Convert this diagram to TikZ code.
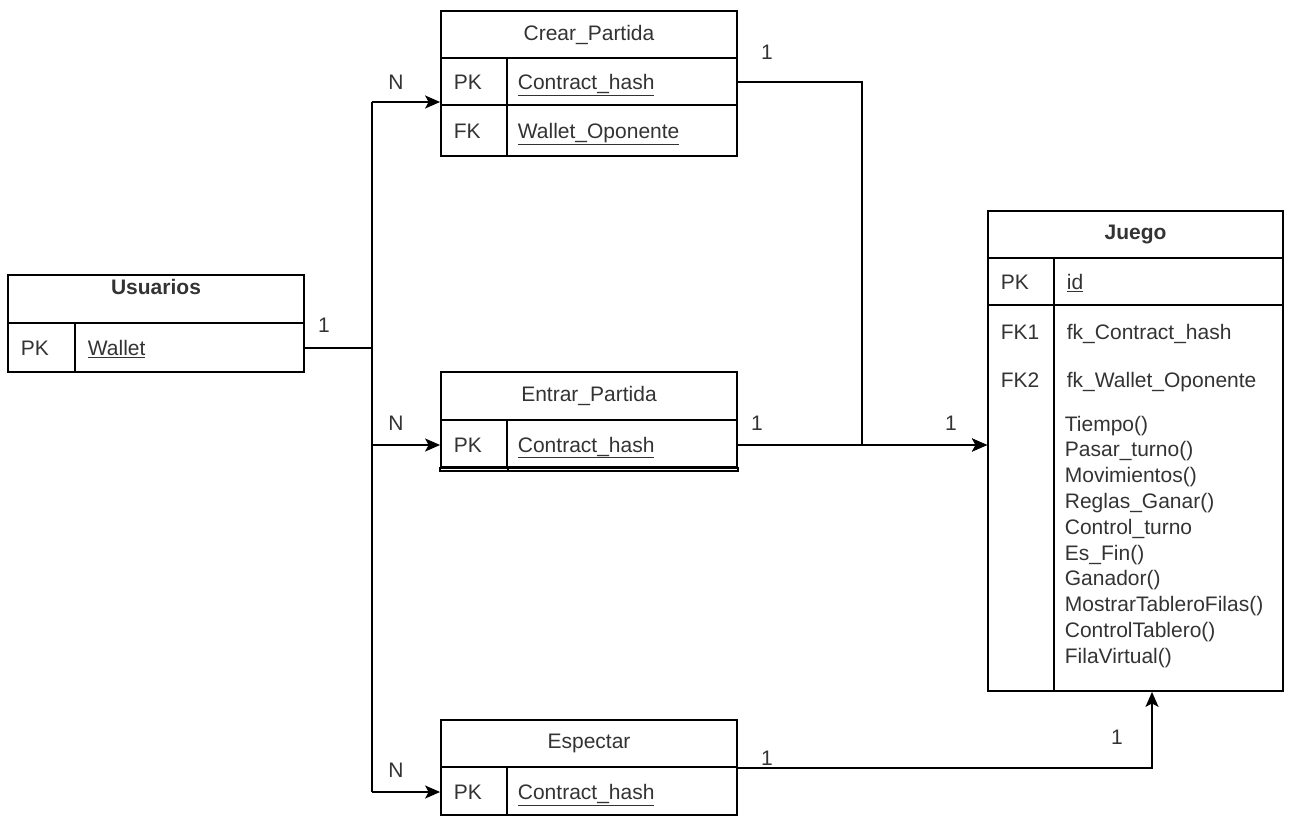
\documentclass[tikz,border=0pt]{standalone}
\usepackage{fontspec}
\setmainfont{Liberation Sans}
\usetikzlibrary{positioning,arrows.meta,calc}

\begin{document}
\begin{tikzpicture}[x=1pt,y=-1pt,line width=1.8pt,
    cell/.style={draw,rectangle,inner sep=0pt,minimum height=47pt},
    keycell/.style={cell,minimum width=66pt},
    fieldcell/.style={cell,minimum width=230pt},
    headcell/.style={cell,minimum width=296pt},
    txt/.style={inner sep=0pt,anchor=base west,text=black!80,
      font=\fontsize{21}{25.8}\selectfont},
    lab/.style={txt,anchor=center},
    arr/.style={-{Stealth[length=15pt,width=13pt,inset=3.5pt]}}]
  \useasboundingbox (0,0) rectangle (1291,816);
  % Usuarios table
  \node[cell,minimum width=296pt,minimum height=48pt] (usu) at (156,299) {};
  \node[lab,anchor=north,font=\fontsize{21}{25.8}\selectfont\bfseries] (usuT) at (156,278) {Usuarios};
  \node[keycell,minimum width=67pt,minimum height=49pt] (usuK) at (41.5,347.5) {};
  \node[cell,minimum width=229pt,minimum height=49pt] (usuF) at (189.5,347.5) {};
  \node[txt] (usuPK) at (20,355.5) {PK};
  \node[txt] (usuW) at (87,355.5) {\underline{Wallet}};
  % Crear_Partida table
  \node[headcell] (crear) at (589,34.5) {};
  \node[lab] (crearT) at (589,34.5) {Crear\_Partida};
  \node[keycell] (crearK) at (474,81.5) {};
  \node[fieldcell] (crearF) at (622,81.5) {};
  \node[keycell,minimum height=51pt] (crearK2) at (474,130.5) {};
  \node[fieldcell,minimum height=51pt] (crearF2) at (622,130.5) {};
  \node[txt] (crearPK) at (453,89.5) {PK};
  \node[txt] (crearCH) at (517,89.5) {\underline{Contract\_hash}};
  \node[txt] (crearFK) at (453,138.5) {FK};
  \node[txt] (crearWO) at (517,138.5) {\underline{Wallet\_Oponente}};
  % Entrar_Partida table
  \node[headcell,minimum height=48pt] (entrar) at (589,396) {};
  \node[lab] (entrarT) at (589,396) {Entrar\_Partida};
  \node[keycell] (entrarK) at (474,443.5) {};
  \node[fieldcell] (entrarF) at (622,443.5) {};
  \draw ([yshift=-3pt]entrarK.south west) rectangle (entrarF.south east);
  \draw (entrarK.south east) -- ++(0,3);
  \node[txt] (entrarPK) at (453,452) {PK};
  \node[txt] (entrarCH) at (517,452) {\underline{Contract\_hash}};
  % Espectar table
  \node[headcell] (espec) at (589,743.5) {};
  \node[lab] (especT) at (589,743.5) {Espectar};
  \node[keycell,minimum height=48pt] (especK) at (474,791) {};
  \node[fieldcell,minimum height=48pt] (especF) at (622,791) {};
  \node[txt] (especPK) at (453,799.5) {PK};
  \node[txt] (especCH) at (517,799.5) {\underline{Contract\_hash}};
  % Juego table
  \node[cell,minimum width=295pt] (juego) at (1135.5,234.5) {};
  \node[lab,font=\fontsize{21}{25.8}\selectfont\bfseries] (juegoT) at (1135.5,234.5) {Juego};
  \node[keycell] (juegoK) at (1021,281.5) {};
  \node[cell,minimum width=229pt] (juegoF) at (1168.5,281.5) {};
  \node[keycell,minimum height=386pt] (juegoK2) at (1021,498) {};
  \node[cell,minimum width=229pt,minimum height=386pt] (juegoF2) at (1168.5,498) {};
  \node[txt] (juegoPK) at (1000,289.5) {PK};
  \node[txt] (juegoId) at (1066,289.5) {\underline{id}};
  \node[txt] (juegoFK1) at (1000,339.5) {FK1};
  \node[txt] (juegoFC) at (1066,339.5) {fk\_Contract\_hash};
  \node[txt] (juegoFK2) at (1000,387.5) {FK2};
  \node[txt] (juegoFW) at (1066,387.5) {fk\_Wallet\_Oponente};
  \node[txt,anchor=north west,align=left] (juegoM) at (1064,415)
    {Tiempo()\\ Pasar\_turno()\\ Movimientos()\\ Reglas\_Ganar()\\
     Control\_turno\\ Es\_Fin()\\ Ganador()\\ MostrarTableroFilas()\\
     ControlTablero()\\ FilaVirtual()};
  % connectors from Usuarios
  \coordinate (trunk) at (372,348);
  \coordinate (trunkTop) at (372,102);
  \coordinate (trunkMid) at (372,445);
  \coordinate (trunkBot) at (372,792);
  \draw (usuF.east |- trunk) -- (trunk);
  \draw (trunkTop) -- (trunkBot);
  \draw[arr] (trunkTop) -- (trunkTop -| crearK.west);
  \draw[arr] (trunkMid) -- (trunkMid -| entrarK.west);
  \draw[arr] (trunkBot) -- (trunkBot -| especK.west);
  % connectors into Juego
  \coordinate (joinC) at (862,82);
  \coordinate (joinE) at (862,445);
  \coordinate (upE) at (1152,768);
  \draw[arr] (crearF.east |- joinC) -- (joinC) -- (joinE) -- (joinE -| juegoK2.west);
  \draw[arr] (entrarF.east |- joinE) -- (joinE -| juegoK2.west);
  \draw[arr] (especF.south east |- upE) -- (upE) -- (upE |- juegoK2.south);
  % cardinality labels
  \node[lab] (nC) at (396,82) {N};
  \node[lab] (nE) at (396,423) {N};
  \node[lab] (nS) at (396,770) {N};
  \node[lab] (oU) at (324,325) {1};
  \node[lab] (oC) at (767,52) {1};
  \node[lab] (oE) at (757,423) {1};
  \node[lab] (oJ) at (951,423) {1};
  \node[lab] (oS) at (767,758) {1};
  \node[lab] (oJ2) at (1117,737) {1};
\end{tikzpicture}
\end{document}
